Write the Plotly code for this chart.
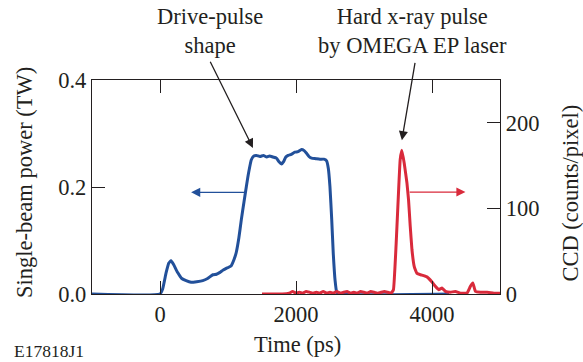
import plotly.graph_objects as go

# Drive-pulse shape (single-beam power, TW)
drive_t = [-1000, 0, 40, 90, 130, 162, 200, 260, 320, 384, 457, 540, 629, 700, 777, 830,
           876, 930, 974, 1010, 1048, 1090, 1122, 1160, 1196, 1235, 1270, 1305, 1343,
           1380, 1417, 1470, 1520, 1570, 1613, 1660, 1712, 1750, 1786, 1820, 1850, 1884,
           1930, 1982, 2030, 2081, 2120, 2155, 2190, 2229, 2290, 2352, 2410, 2450, 2475,
           2499, 2525, 2548, 2575, 2598, 2630, 4250]
drive_p = [0, 0, 0.010, 0.040, 0.058, 0.062, 0.055, 0.040, 0.029, 0.025, 0.022, 0.023,
           0.025, 0.029, 0.036, 0.037, 0.040, 0.045, 0.048, 0.050, 0.053, 0.065, 0.078,
           0.105, 0.139, 0.172, 0.201, 0.228, 0.251, 0.258, 0.259, 0.257, 0.259, 0.256,
           0.258, 0.256, 0.254, 0.247, 0.243, 0.248, 0.256, 0.259, 0.261, 0.265, 0.266,
           0.270, 0.268, 0.263, 0.257, 0.254, 0.253, 0.252, 0.252, 0.249, 0.235, 0.201,
           0.140, 0.076, 0.025, 0.004, 0, 0]

# Hard x-ray signal on the CCD (counts/pixel)
xray_t = [1500, 1600, 1700, 1800, 1900, 1950, 2000, 2050, 2100, 2150, 2200, 2250, 2300,
          2350, 2400, 2450, 2500, 2550, 2600, 2650, 2700, 2750, 2800, 2850, 2900, 2950,
          3000, 3050, 3100, 3150, 3200, 3250, 3300, 3350, 3400, 3433, 3473, 3507, 3532,
          3557, 3591, 3631, 3655, 3680, 3705, 3739, 3779, 3852, 3926, 4000, 4049, 4098,
          4147, 4196, 4270, 4344, 4418, 4516, 4565, 4600, 4639, 4713, 4811, 4910, 5000]
xray_c = [0, 0, 0, 0, 1, 3, 1, 2, 1, 3, 2, 1, 2, 1, 3, 1, 2, 1, 3, 1, 2, 3, 1, 2, 1, 3,
          2, 1, 3, 2, 1, 2, 3, 2, 1, 5, 59, 118, 157, 168, 153, 130, 110, 79, 52, 32, 24,
          22, 20, 14, 9, 5, 7, 3, 2, 3, 1, 1, 9, 13, 3, 2, 2, 1, 1]

x_ticks = [0, 2000, 4000]
y_ticks = [0.0, 0.2, 0.4]
y2_ticks = [0, 100, 200]

BLUE = "#22509a"
RED = "#d92a3b"
INK = "#231f20"
FONT = "Liberation Serif"
SIZE = 22.5

fig = go.Figure()
fig.add_trace(go.Scatter(x=drive_t, y=drive_p, mode="lines",
                         line=dict(color=BLUE, width=3, shape="spline", smoothing=0.4),
                         showlegend=False))
fig.add_trace(go.Scatter(x=xray_t, y=xray_c, mode="lines", yaxis="y2",
                         line=dict(color=RED, width=3, shape="spline", smoothing=0.3),
                         showlegend=False))

axis_common = dict(showline=True, linecolor=INK, linewidth=1.3, ticks="inside",
                   ticklen=13, tickwidth=1.3, tickcolor=INK, showgrid=False,
                   zeroline=False, tickfont=dict(family=FONT, size=SIZE, color=INK))

fig.update_layout(
    width=583, height=362,
    margin=dict(l=92, r=83, t=80, b=68),
    paper_bgcolor="white", plot_bgcolor="white",
    font=dict(family=FONT, color=INK),
    xaxis=dict(range=[-1000, 5000], tickvals=x_ticks, mirror="ticks", **axis_common),
    yaxis=dict(range=[0, 0.4], tickvals=y_ticks, tickformat=".1f", **axis_common),
    yaxis2=dict(range=[0, 250], tickvals=y2_ticks, overlaying="y", side="right",
                **axis_common),
)

notes = [
    dict(text="Drive-pulse<br>shape", x=0.289, y=1.229),
    dict(text="Hard x-ray pulse<br>by OMEGA EP laser", x=0.786, y=1.229),
]
for n in notes:
    fig.add_annotation(text=n["text"], x=n["x"], y=n["y"], xref="paper", yref="paper",
                       showarrow=False, xanchor="center", yanchor="middle",
                       font=dict(family=FONT, size=SIZE, color=INK))

# Pointer arrows from the labels to the curves
pointers = [
    dict(x=1367, y=0.273, ax=728, ay=0.437, color=INK),
    dict(x=3557, y=0.2873, ax=3754, ay=0.435, color=INK),
    dict(x=458, y=0.190, ax=1269, ay=0.190, color=BLUE),
    dict(x=4492, y=0.1906, ax=3650, ay=0.1906, color=RED),
]
for p in pointers:
    fig.add_annotation(x=p["x"], y=p["y"], ax=p["ax"], ay=p["ay"], xref="x", yref="y",
                       axref="x", ayref="y", text="", showarrow=True, arrowhead=2,
                       arrowsize=1.4, arrowwidth=1.3, arrowcolor=p["color"])

fig.add_annotation(text="Single-beam power (TW)", x=-0.167, y=0.523, xref="paper",
                   yref="paper", showarrow=False, textangle=-90, xanchor="center",
                   yanchor="middle", font=dict(family=FONT, size=SIZE, color=INK))
fig.add_annotation(text="CCD (counts/pixel)", x=1.172, y=0.47, xref="paper",
                   yref="paper", showarrow=False, textangle=-90, xanchor="center",
                   yanchor="middle", font=dict(family=FONT, size=SIZE, color=INK))
fig.add_annotation(text="Time (ps)", x=0.504, y=-0.238, xref="paper", yref="paper",
                   showarrow=False, yanchor="middle",
                   font=dict(family=FONT, size=SIZE, color=INK))
fig.add_annotation(text="E17818J1", x=-0.196, y=-0.266, xref="paper", yref="paper",
                   showarrow=False, xanchor="left", yanchor="middle",
                   font=dict(family=FONT, size=17.5, color=INK))

fig.write_html("out.html")
